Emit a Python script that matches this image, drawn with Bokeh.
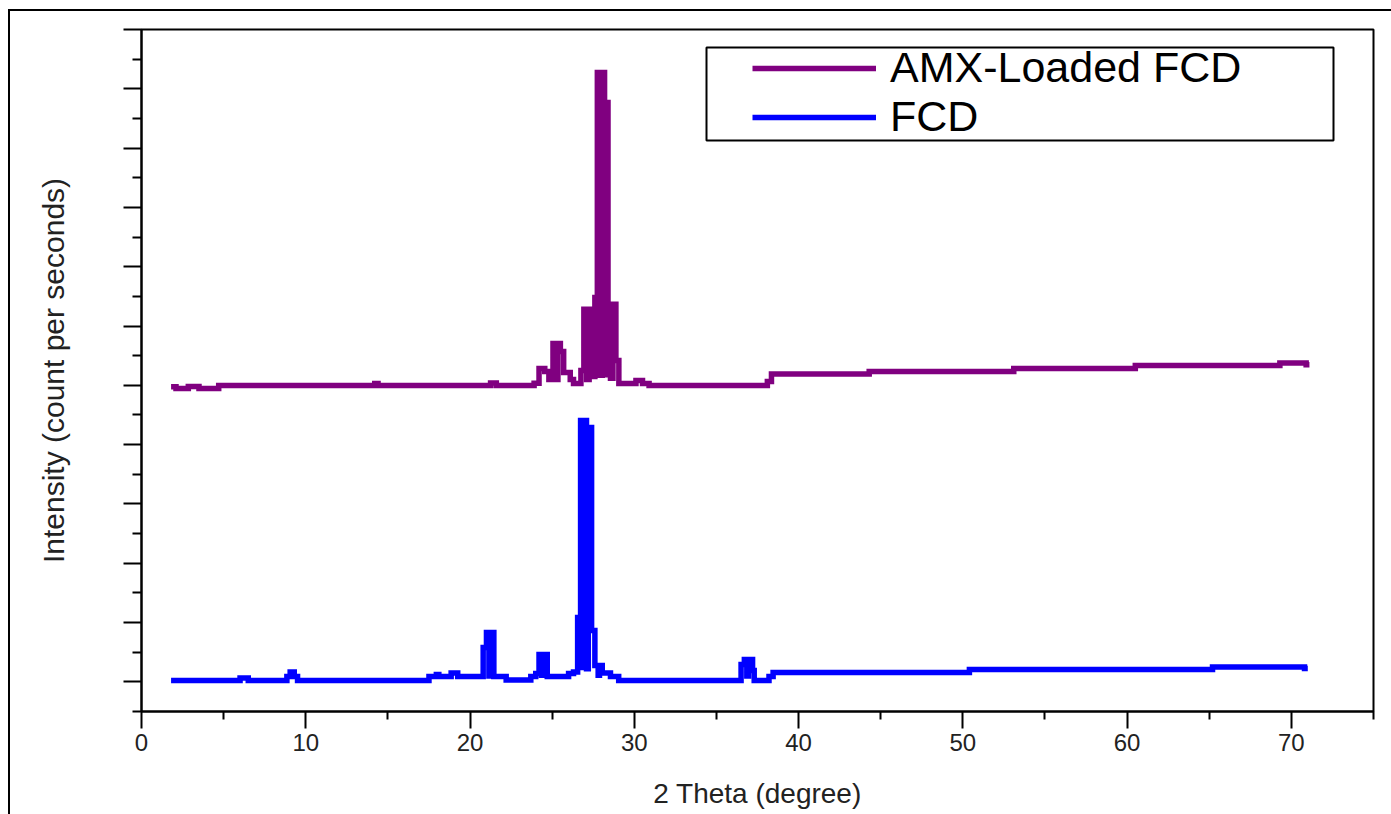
from bokeh.plotting import figure
from bokeh.models import (Range1d, FixedTicker, Legend, LegendItem, BoxAnnotation, InlineStyleSheet)
from bokeh.embed import file_html
from bokeh.resources import INLINE

# ---------------- data ----------------
x_major_ticks = [0, 10, 20, 30, 40, 50, 60, 70]
x_minor_ticks = [5, 15, 25, 35, 45, 55, 65, 75]
y_major_ticks = [1000, 2000, 3000, 4000, 5000, 6000, 7000, 8000, 9000, 10000, 11000, 12000]
y_minor_ticks = [500, 1500, 2500, 3500, 4500, 5500, 6500, 7500, 8500, 9500, 10500, 11500]

series_names = ["AMX-Loaded FCD", "FCD"]

fcd_2theta = [1.8, 6.0, 6.0, 6.5, 6.5, 8.85, 8.85, 9.05, 9.05, 9.3, 9.3, 9.5, 9.5,
              17.5, 17.5, 17.95, 17.95, 18.1, 18.1, 18.85, 18.85, 19.25, 19.25,
              20.8, 20.8, 21.0, 21.0, 21.15, 21.15, 21.3, 21.3, 21.45, 21.45,
              22.2, 22.2, 23.7, 23.7, 24.0, 24.0, 24.2, 24.2, 24.35, 24.35, 24.5, 24.5, 24.7, 24.7,
              26.0, 26.0, 26.3, 26.3, 26.55, 26.55, 26.73, 26.73, 26.85, 26.85, 26.97, 26.97,
              27.09, 27.09, 27.2, 27.2, 27.4, 27.4, 27.6, 27.6, 27.8, 27.8, 27.88, 27.88,
              28.05, 28.05, 28.55, 28.55, 29.05, 29.05,
              36.5, 36.5, 36.7, 36.7, 36.85, 36.85, 36.95, 36.95, 37.2, 37.2, 37.3, 37.3,
              38.2, 38.2, 38.45, 38.45, 50.4, 50.4, 65.2, 65.2, 70.8, 70.8, 71.0]
fcd_intensity = [1023, 1023, 1065, 1065, 1023, 1023, 1090, 1090, 1166, 1166, 1090, 1090, 1023,
                 1023, 1090, 1090, 1125, 1125, 1090, 1090, 1149, 1149, 1090,
                 1090, 1579, 1579, 1832, 1832, 1100, 1100, 1832, 1832, 1090,
                 1090, 1031, 1031, 1090, 1090, 1141, 1141, 1461, 1461, 1110, 1110, 1461, 1461, 1090,
                 1090, 1141, 1141, 1166, 1166, 2085, 2085, 5406, 5406, 1242, 1242, 5406,
                 5406, 1220, 1220, 5288, 5288, 1866, 1866, 1276, 1276, 1110, 1110, 1276,
                 1276, 1149, 1149, 1090, 1090, 1023,
                 1023, 1292, 1292, 1377, 1377, 1100, 1100, 1377, 1377, 1191, 1191, 1023,
                 1023, 1090, 1090, 1158, 1158, 1208, 1208, 1250, 1250, 1225, 1225]

amx_2theta = [1.8, 2.1, 2.1, 2.85, 2.85, 3.5, 3.5, 4.7, 4.7,
              14.2, 14.2, 14.4, 14.4, 21.25, 21.25, 21.6, 21.6,
              23.9, 23.9, 24.2, 24.2, 24.55, 24.55, 24.8, 24.8, 25.05, 25.05, 25.25, 25.25,
              25.35, 25.35, 25.5, 25.5, 25.7, 25.7, 26.1, 26.1, 26.3, 26.3, 26.75, 26.75,
              26.93, 26.93, 27.1, 27.1, 27.25, 27.25, 27.42, 27.42, 27.5, 27.5, 27.6, 27.6,
              27.75, 27.75, 27.9, 27.9, 28.05, 28.05, 28.19, 28.19, 28.3, 28.3, 28.4, 28.4,
              28.55, 28.55, 28.7, 28.7, 28.88, 28.88, 29.06, 29.06,
              30.1, 30.1, 30.5, 30.5, 30.9, 30.9,
              38.1, 38.1, 38.35, 38.35, 44.3, 44.3, 53.1, 53.1, 60.5, 60.5, 69.3, 69.3,
              70.9, 70.9, 71.1]
amx_intensity = [5975, 5975, 5945, 5945, 5980, 5980, 5945, 5945, 5996,
                 5996, 6030, 6030, 5996, 5996, 6040, 6040, 5996,
                 5996, 6035, 6035, 6283, 6283, 6232, 6232, 6098, 6098, 6704, 6704, 6100,
                 6100, 6704, 6704, 6570, 6570, 6216, 6216, 6098, 6098, 6030, 6030, 6249,
                 6249, 7283, 7283, 6100, 6100, 7283, 7283, 7198, 7198, 6150, 6150, 7480,
                 7480, 11274, 11274, 6170, 6170, 11274, 11274, 6180, 6180, 10768, 10768, 7367,
                 7367, 6120, 6120, 7367, 7367, 6418, 6418, 6030,
                 6030, 6081, 6081, 6030, 6030, 5996,
                 5996, 6064, 6064, 6190, 6190, 6232, 6232, 6283, 6283, 6334, 6334, 6376,
                 6376, 6345, 6345]

# ---------------- figure ----------------
FONT = "Liberation Sans"
TXT = "#222222"

page_frame = InlineStyleSheet(css="""
:host::after {
  content: "";
  position: absolute;
  left: 8px; top: 9px;
  width: calc(100% - 8px); height: calc(100% - 9px);
  border-left: 2px solid black; border-top: 2px solid black;
  box-sizing: border-box;
  pointer-events: none;
  z-index: 50;
}
""")

p = figure(width=1391, height=814, output_backend="svg", toolbar_location=None,
           x_range=Range1d(0, 75), y_range=Range1d(500, 12000),
           min_border_left=141, min_border_right=18, min_border_top=29, min_border_bottom=103,
           background_fill_color="white", border_fill_color="white",
           stylesheets=[page_frame])

p.grid.visible = False
p.outline_line_color = "black"
p.outline_line_width = 2

# x axis
xa = p.xaxis[0]
xa.ticker = FixedTicker(ticks=x_major_ticks, minor_ticks=x_minor_ticks)
xa.axis_line_width = 2
xa.axis_line_color = "black"
xa.major_tick_line_width = 2
xa.minor_tick_line_width = 2
xa.major_tick_out = 17
xa.major_tick_in = 0
xa.minor_tick_out = 8
xa.minor_tick_in = 0
xa.major_label_text_font = FONT
xa.major_label_text_font_size = "24px"
xa.major_label_text_color = TXT
xa.major_label_standoff = 5
xa.axis_label = "2 Theta (degree)"
xa.axis_label_text_font = FONT
xa.axis_label_text_font_size = "28px"
xa.axis_label_text_font_style = "normal"
xa.axis_label_text_color = TXT
xa.axis_label_standoff = 24

# y axis
ya = p.yaxis[0]
ya.ticker = FixedTicker(ticks=y_major_ticks, minor_ticks=y_minor_ticks)
ya.axis_line_width = 2
ya.axis_line_color = "black"
ya.major_tick_line_width = 2
ya.minor_tick_line_width = 2
ya.major_tick_out = 18
ya.major_tick_in = 0
ya.minor_tick_out = 9
ya.minor_tick_in = 0
ya.major_label_overrides = {t: "" for t in y_major_ticks}
ya.major_label_standoff = 0
ya.axis_label = "Intensity (count per seconds)"
ya.axis_label_text_font = FONT
ya.axis_label_text_font_size = "30px"
ya.axis_label_text_font_style = "normal"
ya.axis_label_text_color = TXT
ya.axis_label_standoff = 54

# data lines
r_amx = p.line(amx_2theta, amx_intensity, line_color="#800080", line_width=5.5,
               line_join="miter", line_cap="butt")
r_fcd = p.line(fcd_2theta, fcd_intensity, line_color="#0000FF", line_width=5.5,
               line_join="miter", line_cap="butt")

# legend
legend = Legend(items=[LegendItem(label=series_names[0], renderers=[r_amx]),
                       LegendItem(label=series_names[1], renderers=[r_fcd])],
                location=(611, 570), padding=0, spacing=0, margin=0,
                glyph_width=124, glyph_height=44, label_standoff=14, label_height=44,
                label_text_font=FONT, label_text_font_size="43px", label_text_color="black",
                border_line_alpha=0, background_fill_alpha=0)
p.add_layout(legend)

legend_frame = BoxAnnotation(left=565, right=1192, top=664, bottom=571,
                             left_units="screen", right_units="screen",
                             top_units="screen", bottom_units="screen",
                             fill_color=None, fill_alpha=0,
                             line_color="black", line_alpha=1.0, line_width=2)
p.add_layout(legend_frame)

open("out.html", "w").write(file_html(p, INLINE))
